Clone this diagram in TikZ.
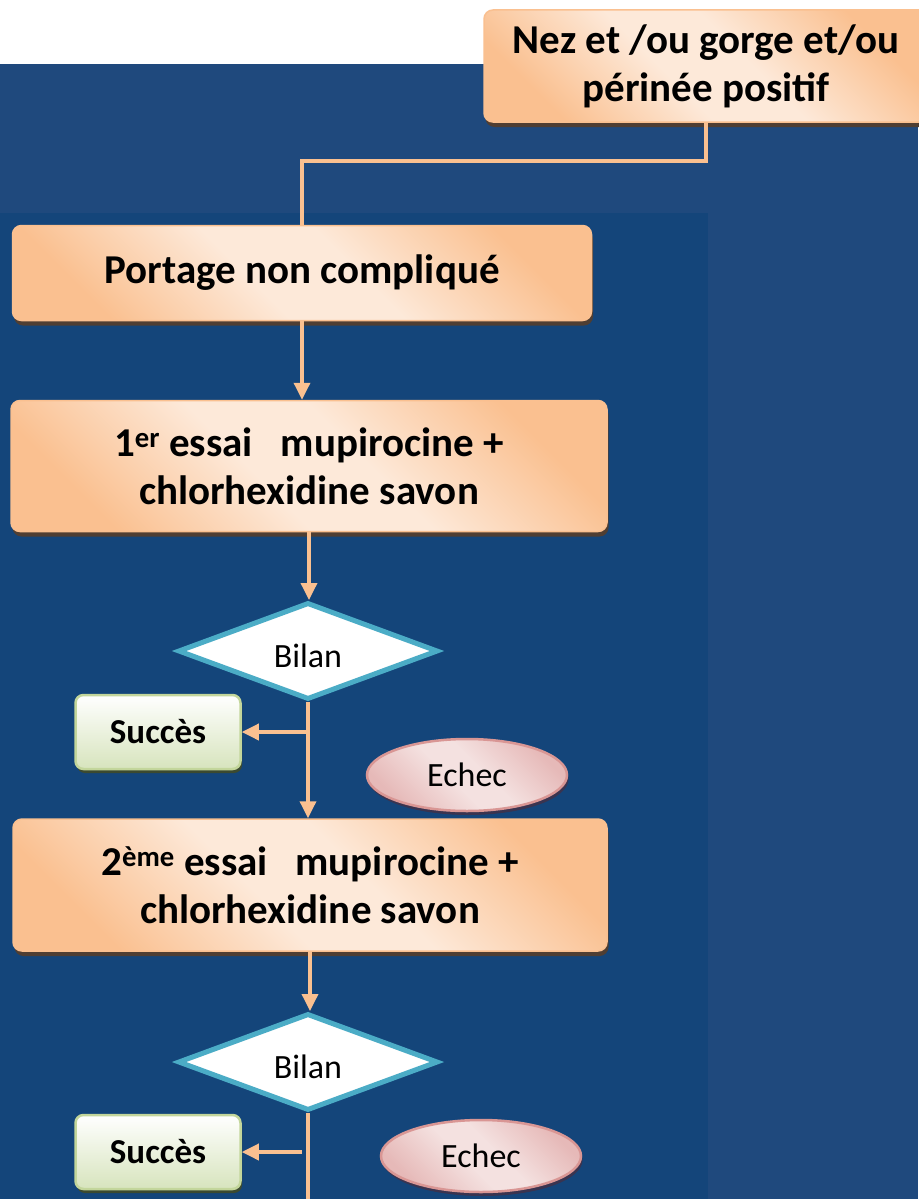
\documentclass[tikz,border=0pt]{standalone}
\usepackage{fontspec}
\setmainfont{Carlito}
\usetikzlibrary{arrows.meta,shapes.geometric,shadows,calc,positioning}

\definecolor{fondhaut}{HTML}{1F497D}
\definecolor{fondbas}{HTML}{14457A}
\definecolor{peche}{HTML}{FDE9D9}
\definecolor{abricot}{HTML}{FAC090}
\definecolor{ombre}{HTML}{4F3E33}
\definecolor{vertclair}{HTML}{D7E4BD}
\definecolor{vertbord}{HTML}{C3D69B}
\definecolor{vertombre}{HTML}{3C4A30}
\definecolor{rosefonce}{HTML}{E6B9B8}
\definecolor{roseclair}{HTML}{F4E1E0}
\definecolor{rosebord}{HTML}{D99694}
\definecolor{roseombre}{HTML}{3A3450}
\definecolor{turquoise}{HTML}{4BACC6}

\pgfdeclarehorizontalshading{degrade}{100bp}{color(0bp)=(abricot); color(25bp)=(abricot); color(44bp)=(peche); color(56bp)=(peche); color(75bp)=(abricot); color(100bp)=(abricot)}
\pgfdeclarehorizontalshading{degraderose}{100bp}{color(0bp)=(rosefonce); color(25bp)=(rosefonce); color(45bp)=(roseclair); color(55bp)=(roseclair); color(75bp)=(rosefonce); color(100bp)=(rosefonce)}

\begin{document}
\begin{tikzpicture}[x=1pt,y=-1pt,
	boite/.style={draw=abricot, line width=1.5pt, rounded corners=9pt, shading=degrade, shading angle=45, align=center, inner sep=0pt, font=\fontsize{41}{48}\selectfont\bfseries, drop shadow={shadow xshift=1.5pt, shadow yshift=-5pt, fill=ombre, opacity=1}},
	succes/.style={draw=vertbord, line width=2.5pt, rounded corners=8pt, top color=white, bottom color=vertclair, minimum width=165pt, minimum height=74pt, font=\fontsize{35}{40}\selectfont\bfseries, drop shadow={shadow xshift=1.5pt, shadow yshift=-4pt, fill=vertombre, opacity=1}},
	echec/.style={ellipse, draw=rosebord, line width=2.5pt, shading=degraderose, shading angle=45, minimum width=200pt, minimum height=72pt, font=\fontsize{34}{40}\selectfont, drop shadow={shadow xshift=1.5pt, shadow yshift=-4pt, fill=roseombre, opacity=1}},
	bilan/.style={diamond, aspect=2.6, draw=turquoise, line width=5pt, fill=white, minimum width=260pt, minimum height=97pt, inner sep=0pt, text height=32pt, text depth=0pt, font=\fontsize{34}{40}\selectfont},
	conn/.style={draw=abricot, line width=3.5pt},
	fleche/.style={conn, -{Triangle[length=17pt,width=16pt]}}]
	\useasboundingbox (0,0) rectangle (918,1199);
	% fonds
	\fill[white] (0,0) rectangle (918,1199);
	\fill[fondhaut] (0,64) rectangle (918,1199);
	\fill[fondbas] (0,213) rectangle (708,1199);
	% boites
	\node[boite, minimum width=444pt, minimum height=112pt] (nez) at (706,66) {Nez et /ou gorge et/ou\\périnée positif};
	\node[boite, minimum width=579pt, minimum height=95pt] (portage) at (302,273) {Portage non compliqué};
	\node[boite, minimum width=596pt, minimum height=131pt] (essai1) at (309,466) {1\textsuperscript{er} essai\ \ \ mupirocine +\\chlorhexidine savon};
	\node[bilan] (bilan1) at (308,651) {Bilan};
	\node[succes] (succes1) at (158,732) {Succès};
	\node[echec] (echec1) at (467,775) {Echec};
	\node[boite, minimum width=594pt, minimum height=132pt] (essai2) at (310,885) {2\textsuperscript{ème} essai\ \ \ mupirocine +\\chlorhexidine savon};
	\node[bilan] (bilan2) at (308,1062) {Bilan};
	\node[succes] (succes2) at (158,1152) {Succès};
	\node[echec] (echec2) at (481,1156) {Echec};
	\coordinate (fin) at (308,1215);
	% liaisons
	\draw[conn] (nez.south) -- ++(0,38) -| (portage.north);
	\draw[fleche] (portage.south) -- (essai1.north -| portage.south);
	\draw[fleche] (essai1.south) -- (bilan1.north -| essai1.south);
	\draw[fleche] (bilan1.south) -- (essai2.north -| bilan1.south);
	\draw[fleche] (bilan1.south |- succes1.east) -- (succes1.east);
	\draw[fleche] (essai2.south) -- (bilan2.north -| essai2.south);
	\draw[conn] (bilan2.south) -- (fin);
	\draw[fleche] ($(bilan2.south |- succes2.east)+(-6,0)$) -- (succes2.east);
\end{tikzpicture}
\end{document}
